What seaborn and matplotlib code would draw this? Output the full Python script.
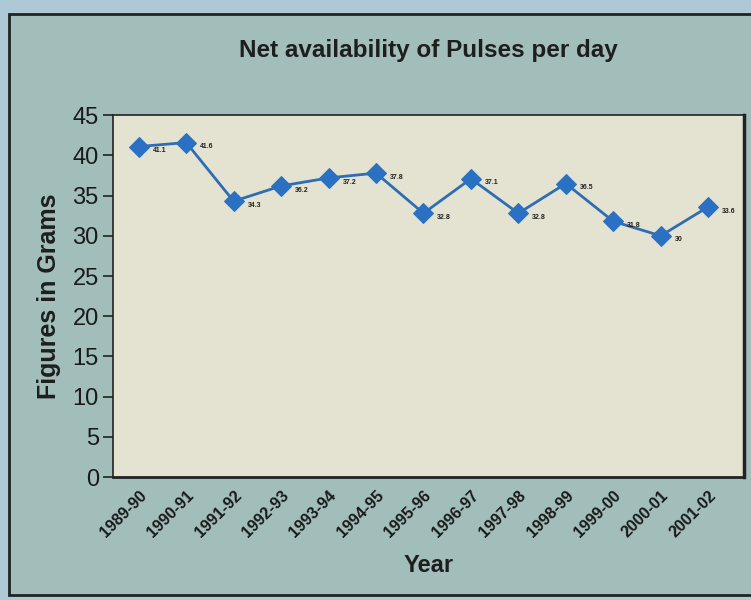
import matplotlib.pyplot as plt
import matplotlib.patches as mpatches
import numpy as np
import seaborn as sns

# values
years = ['1989-90', '1990-91', '1991-92', '1992-93', '1993-94', '1994-95', '1995-96',
         '1996-97', '1997-98', '1998-99', '1999-00', '2000-01', '2001-02']
grams = [41.1, 41.6, 34.3, 36.2, 37.2, 37.8, 32.8, 37.1, 32.8, 36.5, 31.8, 30, 33.6]
labels = ['41.1', '41.6', '34.3', '36.2', '37.2', '37.8', '32.8', '37.1', '32.8',
          '36.5', '31.8', '30', '33.6']
yticks = [0, 5, 10, 15, 20, 25, 30, 35, 40, 45]

sns.set_style('white')
plt.rcParams['font.family'] = ['Liberation Sans', 'DejaVu Sans']

fig = plt.figure(figsize=(7.51, 6.0), dpi=100, facecolor='#adc9d6')
# teal panel with dark frame, kept behind the axes
frame = mpatches.Rectangle((0.012, 0.008), 1.0, 0.968, transform=fig.transFigure,
                           facecolor='#a2bebb', edgecolor='#222222', linewidth=2, zorder=-10)
fig.patches.append(frame)
ax = fig.add_axes([0.150, 0.205, 0.841, 0.603])
ax.set_zorder(5)
ax.set_facecolor('#e4e3d2')

sns.lineplot(x=years, y=grams, marker='D', markersize=10, color='#2f6db3',
             markerfacecolor='#2a71c4', markeredgecolor='#2a71c4', linewidth=2, ax=ax)

for i, (v, t) in enumerate(zip(grams, labels)):
    ax.annotate(t, (i, v), xytext=(10, -3), textcoords='offset points',
                fontsize=5, fontweight='bold', color='#222222', va='center')

ax.set_xlim(-0.55, 12.76)
ax.set_ylim(0, 45)
ax.set_yticks(yticks)
ax.set_yticklabels([str(y) for y in yticks], fontsize=17, color='#1a1a1a')
ax.set_xticks(range(len(years)))
ax.set_xticklabels(years, rotation=45, ha='right', rotation_mode='anchor',
                   fontsize=11.5, fontweight='bold', color='#1a1a1a')
ax.set_xticks(np.arange(-0.5, 12.6, 1), minor=True)
ax.tick_params(axis='x', which='major', length=0, pad=8)
ax.tick_params(axis='x', which='minor', length=6, width=1.5, direction='out', color='#222222')
ax.tick_params(axis='y', length=7, width=1.2, direction='out', color='#222222', left=True, pad=3)

for s in ax.spines.values():
    s.set_color('#222222')
    s.set_linewidth(1.2)
ax.spines['bottom'].set_linewidth(2)
ax.spines['right'].set_linewidth(2.5)

ax.set_title('Net availability of Pulses per day', fontsize=17.5, fontweight='heavy',
             color='#1e1e1e', pad=42, x=0.5)
ax.set_xlabel('Year', fontsize=17, fontweight='heavy', color='#1e1e1e', labelpad=10)
ax.set_ylabel('Figures in Grams', fontsize=18, fontweight='heavy', color='#1e1e1e', labelpad=8)

fig.savefig('out.png', dpi=100, facecolor=fig.get_facecolor())
